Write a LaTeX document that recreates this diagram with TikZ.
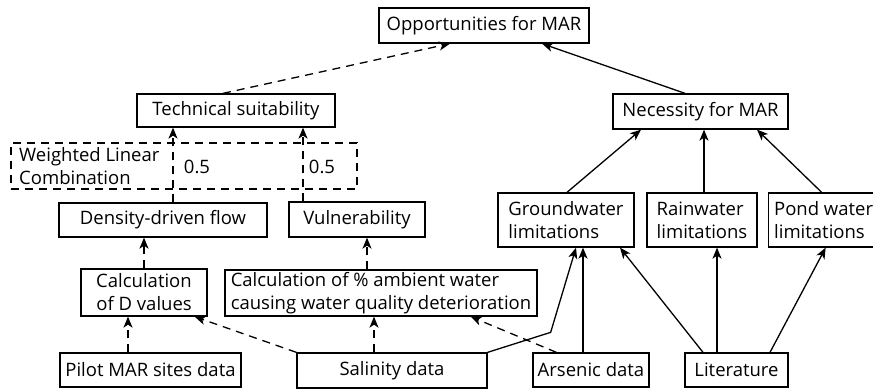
\documentclass[tikz,border=0pt]{standalone}
\usepackage{fontspec}
\setmainfont{Open Sans}
\usetikzlibrary{arrows.meta}

\begin{document}
\begin{tikzpicture}[x=1pt, y=-1pt, >={Stealth[length=11pt, width=9pt, inset=3pt]},
  every node/.style={font=\fontsize{18.5}{23}\selectfont},
  box/.style={draw, line width=1.3pt, inner sep=2pt},
  dashbox/.style={draw, line width=1.3pt, dash pattern=on 8pt off 6pt},
  link/.style={->, line width=1.3pt},
  dlink/.style={->, line width=1.3pt, dash pattern=on 8pt off 6pt}]
\useasboundingbox (0,0) rectangle (873,390);

% Top level
\node[box, minimum width=210pt, minimum height=35pt] (opp) at (484,25.5) {Opportunities for MAR};
\node[box, minimum width=198pt, minimum height=33pt] (tech) at (236,110.5) {Technical suitability};
\node[box, minimum width=175pt, minimum height=35pt] (need) at (700.5,111.5) {Necessity for MAR};

% Weighting
\node[dashbox, minimum width=346pt, minimum height=46pt] (wlc) at (184,166) {};
\node[align=left, inner sep=0pt, anchor=west] (wlctext) at (19,166) {Weighted Linear\\Combination};
\node[inner sep=0pt] (wdd) at (197,167) {0.5};
\node[inner sep=0pt] (wvu) at (322,167) {0.5};

% Criteria
\node[box, minimum width=208pt, minimum height=34pt] (ddf) at (163,220) {Density-driven flow};
\node[box, minimum width=136pt, minimum height=35pt] (vuln) at (357,219.5) {Vulnerability};
\node[box, align=left, minimum width=136pt, minimum height=54pt] (gw) at (566,220) {Groundwater\\limitations};
\node[box, align=left, minimum width=110pt, minimum height=54pt] (rain) at (702,220) {Rainwater\\limitations};
\node[box, align=left, minimum width=110pt, minimum height=54pt, anchor=west] (pond) at (768,220) {Pond water\\limitations};

% Calculations
\node[box, align=right, minimum width=126pt, minimum height=47pt] (calcd) at (144,292.5) {Calculation\\of D values};
\node[box, align=left, minimum width=312pt, minimum height=46pt] (calcp) at (381,293) {Calculation of \% ambient water\\causing water quality deterioration};

% Data
\node[box, minimum width=181pt, minimum height=34pt] (pilot) at (150.5,370) {Pilot MAR sites data};
\node[box, minimum width=190pt, minimum height=35pt] (sal) at (392,370.5) {Salinity data};
\node[box, minimum width=116pt, minimum height=34pt] (ars) at (591,370) {Arsenic data};
\node[box, minimum width=103pt, minimum height=34pt] (lit) at (736.5,370) {Literature};

% Arrows
\draw[dlink] ([xshift=-13pt]tech.north) -- ([xshift=-34pt]opp.south);
\draw[link] ([xshift=-15.5pt]need.north) -- ([xshift=58pt]opp.south);
\draw[link] ([xshift=1pt]gw.north) -- ([xshift=-59.5pt]need.south);
\draw[link] ([xshift=2pt]rain.north) -- ([xshift=2pt]rain.north |- need.south);
\draw[link] ([xshift=-2pt]pond.north) -- ([xshift=56.5pt]need.south);
\draw[dlink] ([xshift=10pt]ddf.north) -- ([xshift=10pt]ddf.north |- tech.south);
\draw[dlink] ([xshift=-54pt]vuln.north) -- ([xshift=-54pt]vuln.north |- tech.south);
\draw[dlink] (calcd.north) -- (calcd.north |- ddf.south);
\draw[dlink] ([xshift=-14pt]calcp.north) -- ([xshift=-14pt]calcp.north |- vuln.south);
\draw[dlink] ([xshift=-22.5pt]pilot.north) -- ([xshift=-22.5pt]pilot.north |- calcd.south);
\draw[dlink] (sal.north west) -- ([xshift=-13pt]calcd.south east);
\draw[dlink] ([xshift=-18pt]sal.north) -- ([xshift=-18pt]sal.north |- calcp.south);
\draw[dlink] ([xshift=24pt]ars.north west) -- ([xshift=-67pt]calcp.south east);
\draw[link] (sal.north east) -- ++(63,-20) -- ([xshift=10pt]gw.south);
\draw[link] ([xshift=-8pt]ars.north) -- ([xshift=-8pt]ars.north |- gw.south);
\draw[link] ([xshift=-33.5pt]lit.north) -- ([xshift=54pt]gw.south);
\draw[link] ([xshift=-19.5pt]lit.north) -- ([xshift=-19.5pt]lit.north |- rain.south);
\draw[link] ([xshift=33.5pt]lit.north) -- ([xshift=2pt]pond.south);
\end{tikzpicture}
\end{document}
